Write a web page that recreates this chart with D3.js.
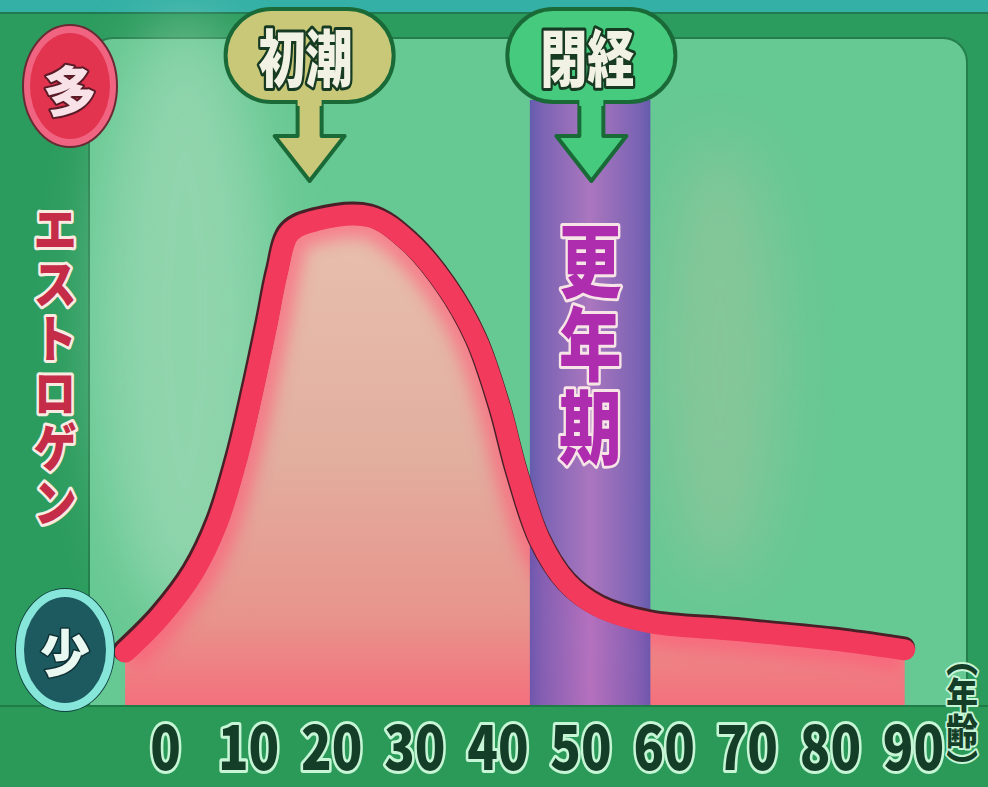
<!DOCTYPE html>
<html lang="ja">
<head>
<meta charset="utf-8">
<title>エストロゲン</title>
<script src="https://d3js.org/d3.v7.min.js"></script>
<style>
  html, body { margin: 0; padding: 0; background: #2c9c5e; }
  svg { display: block; }
  text { font-family: "Noto Sans CJK JP", "Noto Sans", sans-serif; font-weight: 900; paint-order: stroke; stroke-linejoin: round; }
  .vert { writing-mode: vertical-rl; }
</style>
</head>
<body>
<div id="chart"></div>
<script>
// estrogen level (arbitrary 0-100), by age
const ages   = [-4.8, -0.6, 3.4, 6.3, 8.7, 10.6, 12.3, 13.5, 15, 18.3, 24.7, 29.5, 33.9, 37.5, 40.3, 42.4, 45.1, 48.4, 52.3, 58.4, 68.4, 80.4, 87.6, 89];
const levels = [9.2, 15.3, 23, 31.7, 43.1, 54.8, 66.4, 75.1, 82.1, 84.3, 84.9, 80.3, 72.7, 63.5, 51.8, 40.3, 28.7, 21.2, 17, 14.3, 13, 11.3, 9.9, 9.6];
const tickAges = [0, 10, 20, 30, 40, 50, 60, 70, 80, 90];
const markerLabels = ["初潮", "閉経"];
const markerAges = [17.4, 51.3];
const bandAges = [43.9, 58.4];
const bandLabel = "更年期";
const yTitle = "エストロゲン";
const yHigh = "多", yLow = "少";
const unitLabel = "（年齢）";

const W = 988, H = 787;
const data = ages.map((a, i) => ({age: a, level: levels[i]}));

const x = d3.scaleLinear().domain([0, 90]).range([165, 913]);
const y = d3.scaleLinear().domain([0, 100]).range([705, 130]);

const svg = d3.select("#chart").append("svg")
    .attr("width", W).attr("height", H);

const defs = svg.append("defs");

const fillGrad = defs.append("linearGradient").attr("id", "fillGrad")
    .attr("x1", 0).attr("y1", 0).attr("x2", 0).attr("y2", 1);
[[0, "#e8c0ae"], [0.5, "#e2ae9e"], [0.82, "#e8948c"], [1, "#f4707c"]]
  .forEach(s => fillGrad.append("stop").attr("offset", s[0]).attr("stop-color", s[1]));

const bandGrad = defs.append("linearGradient").attr("id", "bandGrad")
    .attr("x1", 0).attr("y1", 0).attr("x2", 1).attr("y2", 0);
[[0, "#6454b0"], [0.1, "#7c5cb6"], [0.5, "#b070c2"], [0.9, "#7c5cb6"], [1, "#6454b0"]]
  .forEach(s => bandGrad.append("stop").attr("offset", s[0]).attr("stop-color", s[1]));

defs.append("filter").attr("id", "blur8").attr("x", "-20%").attr("y", "-20%").attr("width", "140%").attr("height", "140%")
  .append("feGaussianBlur").attr("stdDeviation", 8);
defs.append("filter").attr("id", "blur30").attr("x", "-50%").attr("y", "-50%").attr("width", "200%").attr("height", "200%")
  .append("feGaussianBlur").attr("stdDeviation", 30);

// frame + panel
svg.append("rect").attr("width", W).attr("height", H).attr("fill", "#2c9c5e");
svg.append("rect").attr("width", W).attr("height", 12).attr("fill", "#34b0a6");
svg.append("rect").attr("y", 12).attr("width", W).attr("height", 2).attr("fill", "#1f7a52");
svg.append("rect").attr("x", 89).attr("y", 38).attr("width", 878).attr("height", 700)
    .attr("rx", 24).attr("fill", "#66c893").attr("stroke", "#237e4c").attr("stroke-width", 2);
svg.append("ellipse").attr("cx", 185).attr("cy", 320).attr("rx", 85).attr("ry", 300)
    .attr("fill", "#b2e0c2").attr("opacity", 0.55).attr("filter", "url(#blur30)");
svg.append("ellipse").attr("cx", 720).attr("cy", 360).attr("rx", 60).attr("ry", 220)
    .attr("fill", "#c0c4a4").attr("opacity", 0.35).attr("filter", "url(#blur30)");

const area = d3.area().curve(d3.curveCatmullRom)
    .x(d => x(d.age)).y0(y(0)).y1(d => y(d.level));
const line = d3.line().curve(d3.curveCatmullRom)
    .x(d => x(d.age)).y(d => y(d.level));

defs.append("clipPath").attr("id", "areaClip").append("path").attr("d", area(data));

svg.append("path").attr("d", area(data)).attr("fill", "url(#fillGrad)");
svg.append("path").attr("d", line(data)).attr("clip-path", "url(#areaClip)")
    .attr("fill", "none").attr("stroke", "#ff5878").attr("stroke-width", 46)
    .attr("opacity", 0.6).attr("filter", "url(#blur8)");

// bottom strip
svg.append("rect").attr("x", 0).attr("y", y(0)).attr("width", W).attr("height", H - y(0)).attr("fill", "#2b9a58");
svg.append("rect").attr("x", 0).attr("y", y(0)).attr("width", W).attr("height", 2).attr("fill", "#1f7c46");

// menopause band
svg.append("rect")
    .attr("x", x(bandAges[0])).attr("y", 100)
    .attr("width", x(bandAges[1]) - x(bandAges[0])).attr("height", y(0) - 100)
    .attr("fill", "url(#bandGrad)").attr("opacity", 0.93);

// curve
svg.append("path").attr("d", line(data)).attr("transform", "translate(-1,-2)")
    .attr("fill", "none").attr("stroke", "#4a2028").attr("stroke-width", 23)
    .attr("stroke-linecap", "round");
svg.append("path").attr("d", line(data))
    .attr("fill", "none").attr("stroke", "#f23a5c").attr("stroke-width", 21)
    .attr("stroke-linecap", "round");

// band label, vertical
const bandMid = (x(bandAges[0]) + x(bandAges[1])) / 2;
svg.append("text").attr("class", "vert")
    .attr("transform", `translate(${bandMid},${345}) scale(0.78,1)`)
    .attr("text-anchor", "middle")
    .attr("font-size", 80).attr("letter-spacing", 3).attr("fill", "#ae2cae")
    .attr("stroke", "#f6e4e6").attr("stroke-width", 6)
    .text(bandLabel);

// markers: pill + arrow
const markerFill = ["#c8c878", "#46cb7e"];
markerLabels.forEach((lab, i) => {
  const cx = x(markerAges[i]);
  const g = svg.append("g");
  g.append("path")
      .attr("d", `M${cx - 12},95 L${cx + 12},95 L${cx + 12},136 L${cx + 35},136 L${cx},181 L${cx - 35},136 L${cx - 12},136 Z`)
      .attr("fill", markerFill[i]).attr("stroke", "#1a6a38").attr("stroke-width", 4)
      .attr("stroke-linejoin", "round");
  g.append("rect").attr("x", cx - 84).attr("y", 9).attr("width", 168).attr("height", 93).attr("rx", 46)
      .attr("fill", markerFill[i]).attr("stroke", "#1a6a38").attr("stroke-width", 4);
  g.append("rect").attr("x", cx - 12).attr("y", 96).attr("width", 24).attr("height", 10).attr("fill", markerFill[i]);
  g.append("text")
      .attr("transform", `translate(${cx - 4},${55}) scale(0.76,1)`)
      .attr("text-anchor", "middle").attr("dominant-baseline", "central")
      .attr("font-size", 62).attr("fill", "#f2f2e4")
      .attr("stroke", "#173a22").attr("stroke-width", 6)
      .text(lab);
});

// high / low markers
svg.append("ellipse").attr("cx", 70).attr("cy", 86).attr("rx", 47).attr("ry", 61)
    .attr("fill", "#f06482").attr("stroke", "#6a2a34").attr("stroke-width", 2);
svg.append("ellipse").attr("cx", 70).attr("cy", 86).attr("rx", 40).attr("ry", 53).attr("fill", "#e2344f");
svg.append("text").attr("x", 70).attr("y", 88)
    .attr("text-anchor", "middle").attr("dominant-baseline", "central")
    .attr("font-size", 54).attr("fill", "#f8e2e8")
    .attr("stroke", "#5a1a26").attr("stroke-width", 4)
    .text(yHigh);

svg.append("ellipse").attr("cx", 65).attr("cy", 650).attr("rx", 50).attr("ry", 62)
    .attr("fill", "#12403e");
svg.append("ellipse").attr("cx", 65).attr("cy", 650).attr("rx", 45).attr("ry", 57)
    .attr("fill", "#1d5a60").attr("stroke", "#86e6da").attr("stroke-width", 8);
svg.append("text").attr("x", 65).attr("y", 650)
    .attr("text-anchor", "middle").attr("dominant-baseline", "central")
    .attr("font-size", 50).attr("fill", "#eaf8f2")
    .attr("stroke", "#0e3034").attr("stroke-width", 3)
    .text(yLow);

// y title, vertical katakana
svg.append("text").attr("class", "vert")
    .attr("transform", `translate(55,${367}) scale(0.85,1)`)
    .attr("text-anchor", "middle")
    .attr("font-size", 52).attr("letter-spacing", 2.5).attr("fill", "#c42c48")
    .attr("stroke", "#f8ece2").attr("stroke-width", 6)
    .text(yTitle);

// x axis labels
const xAxis = svg.append("g")
    .attr("transform", `translate(0,${y(0)})`)
    .call(d3.axisBottom(x).tickValues(tickAges).tickSize(0).tickFormat(d3.format("d")));
xAxis.select(".domain").remove();
xAxis.selectAll("text")
    .attr("y", 65).attr("dy", 0)
    .attr("transform", "scale(0.84,1)")
    .attr("font-family", "Roboto, 'Liberation Sans', sans-serif")
    .attr("font-weight", 900)
    .attr("font-size", 60).attr("fill", "#153e28")
    .attr("stroke", "#c6f6d6").attr("stroke-width", 6)
    .style("paint-order", "stroke").style("stroke-linejoin", "round");

// unit (年齢), vertical
svg.append("text").attr("class", "vert")
    .attr("transform", "translate(962,713) scale(0.88,1)")
    .attr("text-anchor", "middle")
    .attr("font-size", 36).attr("fill", "#153e28")
    .attr("stroke", "#c6f6d6").attr("stroke-width", 4)
    .text(unitLabel);
</script>
</body>
</html>
